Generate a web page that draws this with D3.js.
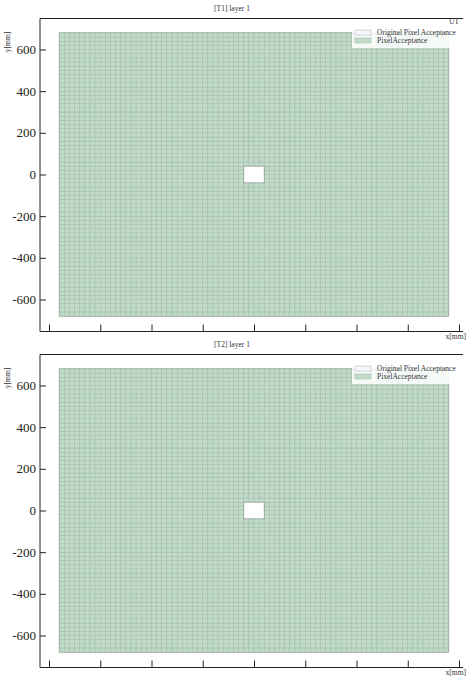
<!DOCTYPE html>
<html>
<head>
<meta charset="utf-8">
<script src="https://cdn.jsdelivr.net/npm/d3@7.9.0/dist/d3.min.js"></script>
<style>
  body { margin: 0; background: #fff; }
  text { font-family: "Liberation Serif", "DejaVu Serif", serif; }
</style>
</head>
<body>
<div id="chart"></div>
<script>
// Panel titles (one per layer plot)
const panelTitles = ['[T1] layer 1', '[T2] layer 1'];

// Axis ticks
const xTicks = [-800, -600, -400, -200, 0, 200, 400, 600, 800];
const yTicks = [-600, -400, -200, 0, 200, 400, 600];

// Pixel layout in mm
const pixelSize = 20;
const pixelXRange = [-760, 760];
const pixelYRange = [-680, 680];
const beamHole = { x0: -40, x1: 40, y0: -40, y1: 40 };

// Legend entries
const legendLabels = ['Original Pixel Acceptance', 'PixelAcceptance'];

const width = 467;
const height = 677;
const panelShift = 336;

const svg = d3.select('#chart')
  .append('svg')
  .attr('width', width)
  .attr('height', height);

// build the pixel list once, skipping the beam hole
const xs = d3.range(pixelXRange[0], pixelXRange[1], pixelSize);
const ys = d3.range(pixelYRange[0], pixelYRange[1], pixelSize);
const pixels = [];
for (const x of xs) {
  for (const y of ys) {
    const inHole = x >= beamHole.x0 && x < beamHole.x1 && y >= beamHole.y0 && y < beamHole.y1;
    if (!inHole) pixels.push({ x, y });
  }
}

function drawPanel(idx) {
  const top = idx * panelShift;
  const g = svg.append('g').attr('transform', `translate(0, ${top})`);

  const xScale = d3.scaleLinear().domain([-800, 800]).range([49, 459]);
  const yScale = d3.scaleLinear().domain([-600, 600]).range([299.5, 49.5]);

  const axisLeftX = 40;
  const frameTop = 18.5;
  const axisBottomY = 331.5;

  // pixel cells
  g.append('g')
    .selectAll('rect')
    .data(pixels)
    .join('rect')
    .attr('x', (d) => xScale(d.x))
    .attr('y', (d) => yScale(d.y + pixelSize))
    .attr('width', (d) => xScale(d.x + pixelSize) - xScale(d.x))
    .attr('height', (d) => yScale(d.y) - yScale(d.y + pixelSize))
    .attr('fill', '#c0dcc9')
    .attr('stroke', '#9cb4a5')
    .attr('stroke-width', 0.4);

  // outline around the whole sensor
  g.append('rect')
    .attr('x', xScale(pixelXRange[0]))
    .attr('y', yScale(pixelYRange[1]))
    .attr('width', xScale(pixelXRange[1]) - xScale(pixelXRange[0]))
    .attr('height', yScale(pixelYRange[0]) - yScale(pixelYRange[1]))
    .attr('fill', 'none')
    .attr('stroke', '#9aa8a0')
    .attr('stroke-width', 0.8);

  // beam hole outline
  g.append('rect')
    .attr('x', xScale(beamHole.x0))
    .attr('y', yScale(beamHole.y1))
    .attr('width', xScale(beamHole.x1) - xScale(beamHole.x0))
    .attr('height', yScale(beamHole.y0) - yScale(beamHole.y1))
    .attr('fill', '#fff')
    .attr('stroke', '#8f9a94')
    .attr('stroke-width', 0.8);

  // y axis (ticks pointing inward)
  const yAxis = d3.axisRight(yScale)
    .tickValues(yTicks)
    .tickSize(6)
    .tickFormat('');
  const yg = g.append('g')
    .attr('transform', `translate(${axisLeftX}, 0)`)
    .call(yAxis);
  yg.select('.domain').remove();
  yg.selectAll('line').attr('stroke', '#222');

  g.append('g')
    .selectAll('text')
    .data(yTicks)
    .join('text')
    .attr('x', axisLeftX - 4)
    .attr('y', (d) => yScale(d))
    .attr('dy', '0.35em')
    .attr('text-anchor', 'end')
    .attr('font-size', 13)
    .attr('fill', '#222')
    .text((d) => (d < 0 ? '-' + Math.abs(d) : d));

  // x axis (ticks pointing up, no labels)
  const xAxis = d3.axisTop(xScale)
    .tickValues(xTicks)
    .tickSize(7)
    .tickFormat('');
  const xg = g.append('g')
    .attr('transform', `translate(0, ${axisBottomY})`)
    .call(xAxis);
  xg.select('.domain').remove();
  xg.selectAll('line').attr('stroke', '#222');

  // frame lines
  g.append('line')
    .attr('x1', axisLeftX).attr('x2', axisLeftX)
    .attr('y1', frameTop).attr('y2', axisBottomY)
    .attr('stroke', '#222').attr('stroke-width', 1);
  g.append('line')
    .attr('x1', axisLeftX).attr('x2', 463)
    .attr('y1', frameTop).attr('y2', frameTop)
    .attr('stroke', '#222').attr('stroke-width', 1);
  g.append('line')
    .attr('x1', axisLeftX).attr('x2', 463)
    .attr('y1', axisBottomY).attr('y2', axisBottomY)
    .attr('stroke', '#222').attr('stroke-width', 1);

  // title
  g.append('text')
    .attr('x', 232)
    .attr('y', 11)
    .attr('text-anchor', 'middle')
    .attr('font-size', 7.5)
    .attr('fill', '#333')
    .text(panelTitles[idx]);

  // axis titles
  g.append('text')
    .attr('transform', 'translate(10, 42) rotate(-90)')
    .attr('text-anchor', 'middle')
    .attr('font-size', 7.5)
    .attr('fill', '#333')
    .text('y[mm]');
  g.append('text')
    .attr('x', 466)
    .attr('y', 339)
    .attr('text-anchor', 'end')
    .attr('font-size', 7.5)
    .attr('fill', '#333')
    .text('x[mm]');

  // legend
  const lg = g.append('g').attr('transform', 'translate(352, 27)');
  lg.append('rect')
    .attr('width', 108).attr('height', 21)
    .attr('fill', '#fff').attr('fill-opacity', 0.85);
  legendLabels.forEach((label, i) => {
    lg.append('rect')
      .attr('x', 3).attr('y', 3 + i * 8)
      .attr('width', 16).attr('height', 5)
      .attr('fill', i === 0 ? '#f4f6fa' : '#c0dcc9')
      .attr('stroke', i === 0 ? '#b4bcc8' : '#a6c2b0')
      .attr('stroke-width', 0.6);
    lg.append('text')
      .attr('x', 25).attr('y', 7.5 + i * 8)
      .attr('font-size', 7.5)
      .attr('fill', '#333')
      .text(label);
  });
}

panelTitles.forEach((t, i) => drawPanel(i));

// stray clipped label in the top right corner
svg.append('text')
  .attr('x', 459)
  .attr('y', 24)
  .attr('text-anchor', 'end')
  .attr('font-size', 7.5)
  .attr('fill', '#333')
  .text('UT');
</script>
</body>
</html>
